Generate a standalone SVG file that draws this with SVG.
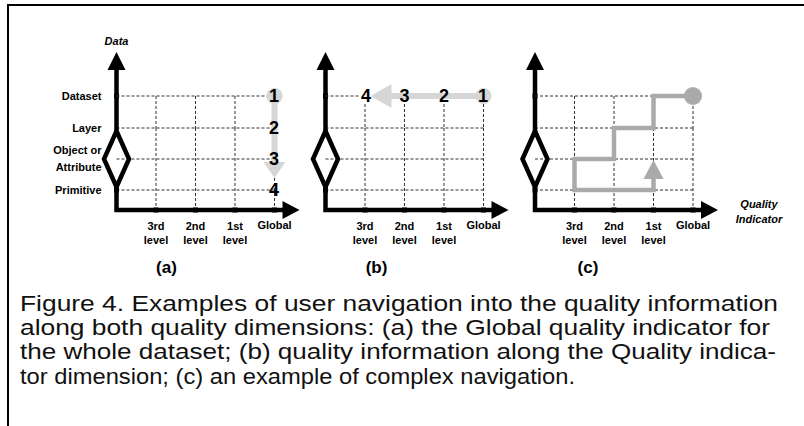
<svg xmlns="http://www.w3.org/2000/svg" xmlns:xlink="http://www.w3.org/1999/xlink" width="804" height="426" viewBox="0 0 804 426">
  <style>
    .frame { stroke: #000; stroke-width: 2; fill: none; }
    .grid { stroke: #333; stroke-width: 1; stroke-dasharray: 3 2; fill: none; }
    .axis { stroke: #000; stroke-width: 4.5; fill: none; stroke-linejoin: miter; }
    .head { fill: #000; }
    .tick { fill: #000; }
    .lbl { font-family: "Liberation Sans", Arial, sans-serif; font-weight: bold; font-size: 11px; fill: #000; }
    .lblr { text-anchor: end; }
    .lblc { text-anchor: middle; }
    .ital { font-style: italic; }
    .num { font-family: "Liberation Sans", Arial, sans-serif; font-weight: bold; font-size: 18px; fill: #000; text-anchor: middle; }
    .panel { font-family: "Liberation Sans", Arial, sans-serif; font-weight: bold; font-size: 17px; fill: #000; text-anchor: middle; }
    .cap { font-family: "Liberation Sans", Arial, sans-serif; font-size: 22px; fill: #111; }
    .light { fill: #d6d6d6; }
    .mid { fill: #aaaaaa; }
    .route { stroke: #aaaaaa; stroke-width: 4.5; fill: none; stroke-linejoin: miter; }
  </style>
  <defs>
    <!-- two-axis chart skeleton, origin at the y axis / x axis corner -->
    <g id="axes">
      <g class="grid">
        <path d="M0,159 H158 M0,128 H158 M0,190 H158"/>
        <path d="M39.5,128 V210 M79,128 V210 M118.5,128 V210 M158,128 V210"/>
      </g>
      <path class="axis" d="M0,68 V131 M0,186 V210 H168"/>
      <polygon class="axis" points="0,131 12.5,159 0,187 -12.5,159"/>
      <polygon class="head" points="-9,70 9,70 0,52"/>
      <polygon class="head" points="166,201 166,219 183,210"/>
      <g class="tick">
        <rect x="37" y="207.5" width="5" height="5"/>
        <rect x="76.5" y="207.5" width="5" height="5"/>
        <rect x="116" y="207.5" width="5" height="5"/>
        <rect x="155.5" y="207.5" width="5" height="5"/>
        <rect x="-2.5" y="93.5" width="5" height="5"/>
        <rect x="-2.5" y="187.5" width="5" height="5"/>
      </g>
      <g class="lbl lblc">
        <text x="39.5" y="230">3rd</text>
        <text x="39.5" y="244">level</text>
        <text x="79" y="230">2nd</text>
        <text x="79" y="244">level</text>
        <text x="118.5" y="230">1st</text>
        <text x="118.5" y="244">level</text>
        <text x="158" y="229">Global</text>
      </g>
    </g>
  </defs>

  <!-- figure frame -->
  <path class="frame" d="M8,426 V5 H804"/>

  <!-- (a) the Global quality indicator for the whole dataset -->
  <g id="panel-a" transform="translate(116.5,0)">
    <use xlink:href="#axes"/>
    <g class="grid">
      <path d="M0,96 H158 M39.5,96 V128 M79,96 V128 M118.5,96 V128 M158,96 V128"/>
    </g>
    <text class="lbl lblc ital" x="0" y="45">Data</text>
    <g class="lbl lblr">
      <text x="-15" y="100">Dataset</text>
      <text x="-15" y="132">Layer</text>
      <text x="-15" y="154">Object or</text>
      <text x="-15" y="171">Attribute</text>
      <text x="-15" y="194">Primitive</text>
    </g>
    <g id="nav-a">
      <circle class="light" cx="158" cy="96" r="8"/>
      <rect class="light" x="155" y="96" width="6" height="67"/>
      <polygon class="light" points="147,162 169,162 158,178"/>
    </g>
    <g>
      <text class="num" x="157.5" y="102">1</text>
      <text class="num" x="157.5" y="134">2</text>
      <text class="num" x="157.5" y="165">3</text>
      <text class="num" x="157.5" y="196">4</text>
    </g>
    <text class="panel" x="50" y="273">(a)</text>
  </g>

  <!-- (b) quality information along the Quality indicator dimension -->
  <g id="panel-b" transform="translate(325.5,0)">
    <use xlink:href="#axes"/>
    <g class="grid">
      <path d="M0,96 H35 M39.5,104 V128 M79,104 V128 M118.5,104 V128 M158,104 V128"/>
    </g>
    <g id="nav-b">
      <circle class="light" cx="158" cy="96" r="8"/>
      <rect class="light" x="65" y="93" width="93" height="6"/>
      <polygon class="light" points="66,84 66,108 45,96"/>
    </g>
    <g>
      <text class="num" x="157.5" y="102">1</text>
      <text class="num" x="118.5" y="102">2</text>
      <text class="num" x="79" y="102">3</text>
      <text class="num" x="40.5" y="102">4</text>
    </g>
    <text class="panel" x="51" y="273">(b)</text>
  </g>

  <!-- (c) an example of complex navigation -->
  <g id="panel-c" transform="translate(535,0)">
    <use xlink:href="#axes"/>
    <g class="grid">
      <path d="M0,96 H158 M39.5,96 V128 M79,96 V128 M118.5,96 V128 M158,96 V128"/>
    </g>
    <g id="nav-c">
      <path class="route" d="M158,96 H118.5 V128 H79 V159 H39.5 V190 H118.5 V178"/>
      <polygon class="mid" points="108.5,179 128.5,179 118.5,160"/>
      <circle class="mid" cx="158" cy="96" r="9"/>
    </g>
    <g class="lbl lblc ital">
      <text x="224" y="208">Quality</text>
      <text x="224" y="223">Indicator</text>
    </g>
    <text class="panel" x="53" y="273">(c)</text>
  </g>

  <!-- caption -->
  <g id="caption" class="cap">
    <text x="20" y="311" textLength="758" lengthAdjust="spacingAndGlyphs">Figure 4. Examples of user navigation into the quality information</text>
    <text x="20" y="335" textLength="750" lengthAdjust="spacingAndGlyphs">along both quality dimensions: (a) the Global quality indicator for</text>
    <text x="20" y="359" textLength="756" lengthAdjust="spacingAndGlyphs">the whole dataset; (b) quality information along the Quality indica-</text>
    <text x="20" y="384" textLength="555" lengthAdjust="spacingAndGlyphs">tor dimension; (c) an example of complex navigation.</text>
  </g>
</svg>
